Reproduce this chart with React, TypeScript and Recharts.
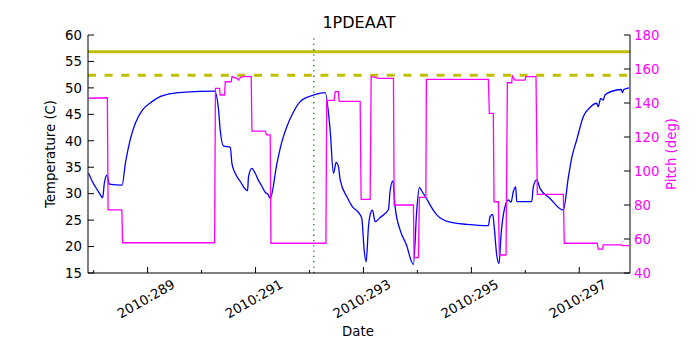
import React from "react";
import {
  LineChart,
  Line,
  XAxis,
  YAxis,
  ReferenceLine,
} from "recharts";

// day-of-year 2010 (fractional) and temperature (C)
const tempDays = [
  287.907, 287.97, 288.031, 288.1, 288.167, 288.198, 288.248, 288.291, 288.526, 288.587,
  288.64, 288.68, 288.772, 288.902, 289.081, 289.24, 289.389, 289.698, 290.241, 290.315,
  290.346, 290.407, 290.531, 290.563, 290.624, 290.717, 290.852, 290.87, 290.933, 290.994,
  291.05, 291.106, 291.18, 291.235, 291.272, 291.396, 291.48, 291.581, 291.7, 291.828,
  291.95, 292.074, 292.291, 292.383, 292.444, 292.494, 292.537, 292.569, 292.693, 292.791,
  292.939, 292.97, 293.013, 293.05, 293.093, 293.124, 293.167, 293.217, 293.309, 293.463,
  293.494, 293.544, 293.587, 293.68, 293.791, 293.926, 293.989, 294.037, 294.081, 294.174,
  294.25, 294.359, 294.606, 294.915, 295.315, 295.346, 295.396, 295.42, 295.47, 295.513,
  295.55, 295.593, 295.685, 295.735, 295.778, 295.822, 295.841, 296.119, 296.148, 296.211,
  296.272, 296.457, 296.704, 296.796, 296.865, 296.952, 297.074, 297.198, 297.322, 297.352,
  297.396, 297.444, 297.476, 297.689, 297.778, 297.8, 297.824, 297.922,
];
const tempValues = [
  33.85, 32.4, 31.3, 30.2, 29.24, 32.0, 33.5, 31.8, 31.6, 35.7,
  38.5, 40.3, 43.3, 45.8, 47.4, 48.4, 48.85, 49.2, 49.4, 45.8,
  42.0, 39.0, 38.8, 35.7, 33.85, 32.3, 30.56, 33.2, 34.8, 33.85,
  32.6, 31.6, 30.25, 29.8, 29.1, 35.7, 39.5, 42.7, 45.4, 47.4,
  48.2, 48.65, 49.1, 42.0, 33.85, 35.9, 35.1, 32.6, 29.4, 27.6,
  26.0, 25.3, 19.35, 17.1, 23.75, 26.0, 26.9, 24.7, 25.5, 27.0,
  30.5, 32.4, 27.5, 23.1, 20.5, 16.6, 27.0, 31.2, 30.5, 29.0,
  27.6, 26.0, 24.6, 24.2, 23.95, 25.65, 26.1, 24.1, 18.4, 16.8,
  22.2, 26.0, 28.8, 28.4, 30.4, 31.3, 28.5, 28.5, 31.3, 32.6,
  31.0, 29.1, 26.9, 33.0, 37.0, 40.15, 44.55, 46.3, 47.1, 46.45,
  48.0, 47.7, 48.65, 49.6, 49.7, 49.1, 49.7, 50.0,
];

// day-of-year 2010 and pitch (deg)
const pitchDays = [
  287.907, 288.254, 288.267, 288.522, 288.537, 290.241, 290.257, 290.333, 290.346, 290.426,
  290.439, 290.55, 290.563, 290.656, 290.685, 290.717, 290.748, 290.92, 290.933, 291.18,
  291.207, 291.272, 291.285, 292.304, 292.319, 292.457, 292.476, 292.537, 292.55, 292.939,
  292.957, 293.124, 293.143, 293.217, 293.278, 293.556, 293.569, 293.926, 293.939, 294.019,
  294.037, 294.156, 294.167, 295.315, 295.333, 295.407, 295.42, 295.5, 295.519, 295.643,
  295.667, 295.748, 295.759, 295.809, 295.994, 296.007, 296.198, 296.222, 296.704, 296.722,
  297.333, 297.352, 297.433, 297.444, 297.785, 297.804, 297.922,
];
const pitchValues = [
  142.8, 143.1, 77.1, 77.1, 57.8, 57.8, 148.6, 148.6, 144.7, 144.7,
  152.5, 152.5, 155.5, 154.5, 153.5, 154.9, 155.5, 155.5, 123.4, 123.4,
  121.2, 121.2, 57.5, 57.5, 141.6, 141.6, 146.7, 146.7, 141.0, 141.0,
  83.3, 83.3, 155.5, 155.1, 154.5, 154.5, 80.0, 80.0, 49.0, 49.0,
  84.5, 84.5, 153.9, 153.9, 133.9, 133.9, 81.9, 81.9, 50.6, 50.6,
  151.9, 151.9, 155.9, 153.5, 153.5, 155.5, 155.5, 86.3, 86.3, 57.5,
  57.5, 54.1, 54.1, 56.5, 56.5, 56.1, 56.1,
];

const dayTicks = [288, 289, 290, 291, 292, 293, 294, 295, 296, 297];
const tempTicks = [15, 20, 25, 30, 35, 40, 45, 50, 55, 60];
const pitchTicks = [40, 60, 80, 100, 120, 140, 160, 180];
const planningLimit = 56.85;
const cautionLimit = 52.4;
const nowDay = 292.08;

const tempData = tempDays.map((d, i) => ({ day: d, temp: tempValues[i] }));
const pitchData = pitchDays.map((d, i) => ({ day: d, pitch: pitchValues[i] }));

const FONT = "DejaVu Sans, sans-serif";
const MAGENTA = "#ff00ff";

const BottomTick = (props: any) => {
  const { x, y, payload } = props;
  const major = payload.value % 2 === 1;
  return (
    <g>
      <line x1={x} y1={y} x2={x} y2={y - (major ? 6 : 3)} stroke="#000" />
      {major && (
        <text
          x={x - 1.5}
          y={y + 26}
          textAnchor="middle"
          dominantBaseline="central"
          transform={`rotate(-30, ${x - 1.5}, ${y + 26})`}
          fontSize={13.3}
          fontFamily={FONT}
          fill="#000"
        >
          {`2010:${payload.value}`}
        </text>
      )}
    </g>
  );
};

const TopTick = (props: any) => {
  const { x, y, payload } = props;
  const major = payload.value % 2 === 1;
  return <line x1={x} y1={y} x2={x} y2={y + (major ? 6 : 3)} stroke="#000" />;
};

const LeftTick = (props: any) => {
  const { x, y, payload } = props;
  return (
    <g>
      <line x1={x} y1={y} x2={x + 6} y2={y} stroke="#000" />
      <text x={x - 6} y={y} dy="0.36em" textAnchor="end" fontSize={13.3} fontFamily={FONT} fill="#000">
        {payload.value}
      </text>
    </g>
  );
};

const RightTick = (props: any) => {
  const { x, y, payload } = props;
  return (
    <g>
      <line x1={x} y1={y} x2={x - 6} y2={y} stroke="#000" />
      <text x={x + 4} y={y} dy="0.36em" textAnchor="start" fontSize={13.3} fontFamily={FONT} fill={MAGENTA}>
        {payload.value}
      </text>
    </g>
  );
};

export default function App() {
  return (
    <div style={{ position: "absolute", left: 0, top: 0, width: 700, height: 350, background: "#fff" }}>
      <LineChart width={700} height={350} margin={{ top: 35, right: 10, left: 28, bottom: 17 }}>
        <XAxis
          dataKey="day"
          type="number"
          domain={[287.895, 297.94]}
          allowDataOverflow
          ticks={dayTicks}
          interval={0}
          height={60}
          tickSize={0}
          tickMargin={0}
          tickLine={false}
          axisLine={{ stroke: "#000" }}
          tick={<BottomTick />}
        />
        <XAxis
          xAxisId="top"
          orientation="top"
          dataKey="day"
          type="number"
          domain={[287.895, 297.94]}
          allowDataOverflow
          ticks={dayTicks}
          interval={0}
          height={0}
          tickSize={0}
          tickMargin={0}
          tickLine={false}
          axisLine={{ stroke: "#000" }}
          tick={<TopTick />}
        />
        <YAxis
          yAxisId="temp"
          type="number"
          domain={[15, 60]}
          allowDataOverflow
          ticks={tempTicks}
          interval={0}
          width={60}
          tickSize={0}
          tickMargin={0}
          tickLine={false}
          axisLine={{ stroke: "#000" }}
          tick={<LeftTick />}
        />
        <YAxis
          yAxisId="pitch"
          orientation="right"
          type="number"
          domain={[40, 180]}
          allowDataOverflow
          ticks={pitchTicks}
          interval={0}
          width={60}
          tickSize={0}
          tickMargin={0}
          tickLine={false}
          axisLine={{ stroke: "#000" }}
          tick={<RightTick />}
        />
        <ReferenceLine yAxisId="temp" y={planningLimit} stroke="#bfbf00" strokeWidth={3} />
        <ReferenceLine yAxisId="temp" y={cautionLimit} stroke="#bfbf00" strokeWidth={3} strokeDasharray="8 8.6" />
        <ReferenceLine yAxisId="temp" x={nowDay} stroke="#008000" strokeWidth={1.3} strokeDasharray="1.3 4" />
        <Line
          yAxisId="temp"
          data={tempData}
          dataKey="temp"
          type="monotone"
          stroke="#0000ff"
          strokeWidth={1.3}
          dot={false}
          isAnimationActive={false}
        />
        <Line
          yAxisId="pitch"
          data={pitchData}
          dataKey="pitch"
          type="linear"
          stroke={MAGENTA}
          strokeWidth={1.3}
          dot={false}
          isAnimationActive={false}
        />
      </LineChart>
      <div style={{ position: "absolute", left: 0, top: 0, width: 700, height: 350, pointerEvents: "none" }}>
        <svg width={700} height={350}>
          <text x={359} y={28} textAnchor="middle" fontSize={16} fontFamily={FONT} fill="#000">
            1PDEAAT
          </text>
          <text x={358} y={336} textAnchor="middle" fontSize={13.3} fontFamily={FONT} fill="#000">
            Date
          </text>
          <text
            x={55}
            y={154}
            textAnchor="middle"
            transform="rotate(-90, 55, 154)"
            fontSize={13.3}
            fontFamily={FONT}
            fill="#000"
          >
            Temperature (C)
          </text>
          <text
            x={676}
            y={154}
            textAnchor="middle"
            transform="rotate(-90, 676, 154)"
            fontSize={13.3}
            fontFamily={FONT}
            fill={MAGENTA}
          >
            Pitch (deg)
          </text>
        </svg>
      </div>
    </div>
  );
}
